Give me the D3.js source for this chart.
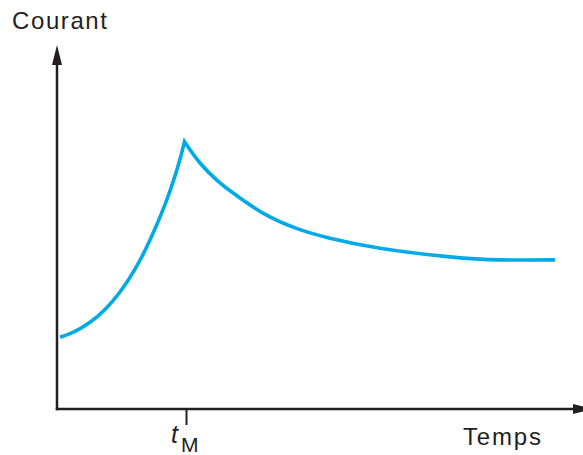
<!DOCTYPE html>
<html><head><meta charset="utf-8">
<script src="https://cdn.jsdelivr.net/npm/d3@7"></script>
<style>body{margin:0;background:#fff}svg{display:block}text{font-family:"Liberation Sans",Arial,sans-serif;fill:#231f20}</style>
</head><body><svg id="c" width="583" height="455"></svg>
<script>
// Data (arbitrary units)
const riseT = [0.06, 0.36, 0.66, 0.96, 1.26, 1.56, 1.86, 2.16, 2.36, 2.48, 2.55];
const riseI = [2.39, 2.59, 2.89, 3.32, 3.90, 4.66, 5.63, 6.81, 7.77, 8.45, 8.91];
const decayT = [2.55, 2.86, 3.19, 3.53, 4.13, 4.79, 5.46, 6.46, 7.86, 8.86, 9.96];
const decayI = [8.91, 8.20, 7.64, 7.19, 6.52, 6.02, 5.69, 5.36, 5.07, 4.97, 4.97];
const tickLabels = ["t", "M"];
const tM = 2.58;
const yLabel = "Courant", xLabel = "Temps";

const svg = d3.select("#c");
const x = d3.scaleLinear().domain([0, 10]).range([57, 557]);
const y = d3.scaleLinear().domain([0, 10]).range([409, 109]);
const ink = "#231f20", blue = "#00aae7";

const defs = svg.append("defs");
defs.append("marker").attr("id","arr").attr("viewBox","0 0 20 10")
  .attr("refX",0).attr("refY",5).attr("markerWidth",20).attr("markerHeight",10)
  .attr("markerUnits","userSpaceOnUse").attr("orient","auto")
  .append("path").attr("d","M0,0L20,5L0,10Z").attr("fill",ink);

// y axis
svg.append("line").attr("x1",x(0)).attr("x2",x(0)).attr("y1",y(0)+1.2).attr("y2",65)
  .attr("stroke",ink).attr("stroke-width",2.5).attr("marker-end","url(#arr)");
// x axis
svg.append("line").attr("x1",x(0)-1.2).attr("x2",573).attr("y1",y(0)).attr("y2",y(0))
  .attr("stroke",ink).attr("stroke-width",2.5).attr("marker-end","url(#arr)");

const ax = d3.axisBottom(x).tickValues([tM]).tickSize(16).tickFormat("");
const g = svg.append("g").attr("transform",`translate(0,${y(0)})`).call(ax);
g.select(".domain").remove();
g.selectAll(".tick line").attr("stroke",ink).attr("stroke-width",2);

// curve
const line = d3.line().x(d=>x(d[0])).y(d=>y(d[1])).curve(d3.curveNatural);
const rise = riseT.map((t,i)=>[t, riseI[i]]);
const decay = decayT.map((t,i)=>[t, decayI[i]]);
const d = line(rise) + line(decay).replace(/^M/, "L");
svg.append("path").attr("d", d).attr("fill","none").attr("stroke",blue)
  .attr("stroke-width",3.6).attr("stroke-linejoin","miter").attr("stroke-miterlimit",20);

// labels
svg.append("text").attr("x",12).attr("y",29).attr("font-size",24)
  .attr("letter-spacing",1.6).text(yLabel);
svg.append("text").attr("x",463).attr("y",445).attr("font-size",24)
  .attr("letter-spacing",1.8).text(xLabel);
const tl = svg.append("text").attr("x",171).attr("y",443).attr("font-size",25);
tl.append("tspan").attr("font-style","italic").text(tickLabels[0]);
tl.append("tspan").attr("dx",3).attr("dy",9).attr("font-size",21).text(tickLabels[1]);
</script></body></html>
